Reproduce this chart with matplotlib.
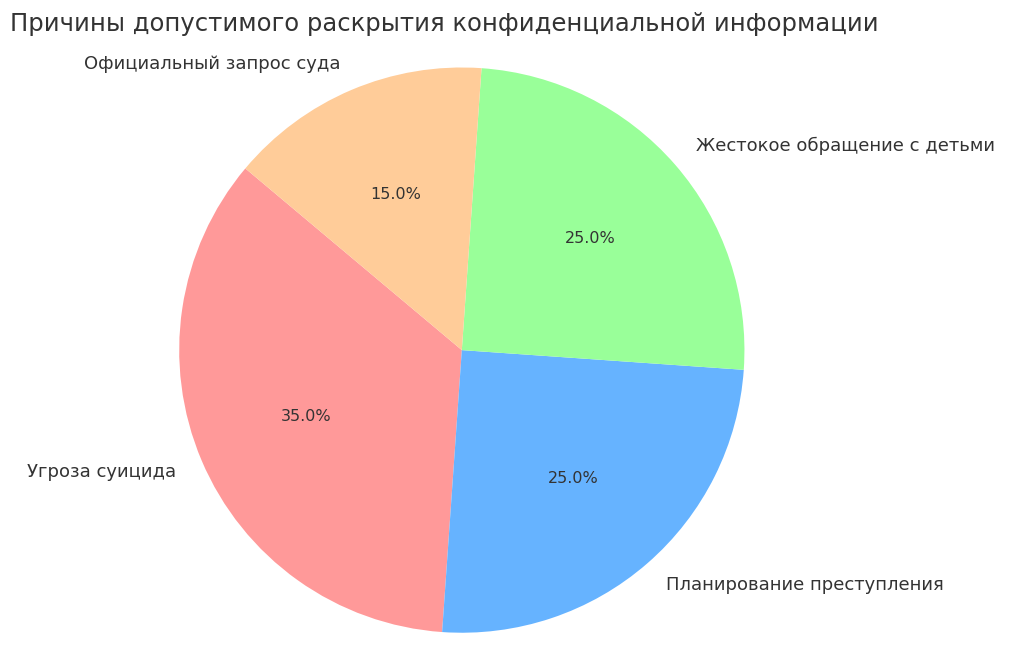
import matplotlib
matplotlib.use("Agg")
import matplotlib.pyplot as plt

labels = ["Угроза суицида", "Планирование преступления", "Жестокое обращение с детьми", "Официальный запрос суда"]
values = [35, 25, 25, 15]
colors = ["#ff9999", "#66b3ff", "#99ff99", "#ffcc99"]

fig = plt.figure(figsize=(10.24, 6.72), dpi=100)
ax = fig.add_axes([0.106, -0.047, 0.690, 1.052])
wedges, texts, autotexts = ax.pie(values, labels=labels, colors=colors, autopct="%1.1f%%",
                                  startangle=140, textprops={"fontsize": 13, "color": "#333333"})
for t in autotexts:
    t.set_fontsize(11.5)
ax.set_aspect("equal")
fig.text(0.01, 0.965, "Причины допустимого раскрытия конфиденциальной информации",
         fontsize=17.5, color="#333333", ha="left", va="center")
fig.savefig("out.png", dpi=100)
